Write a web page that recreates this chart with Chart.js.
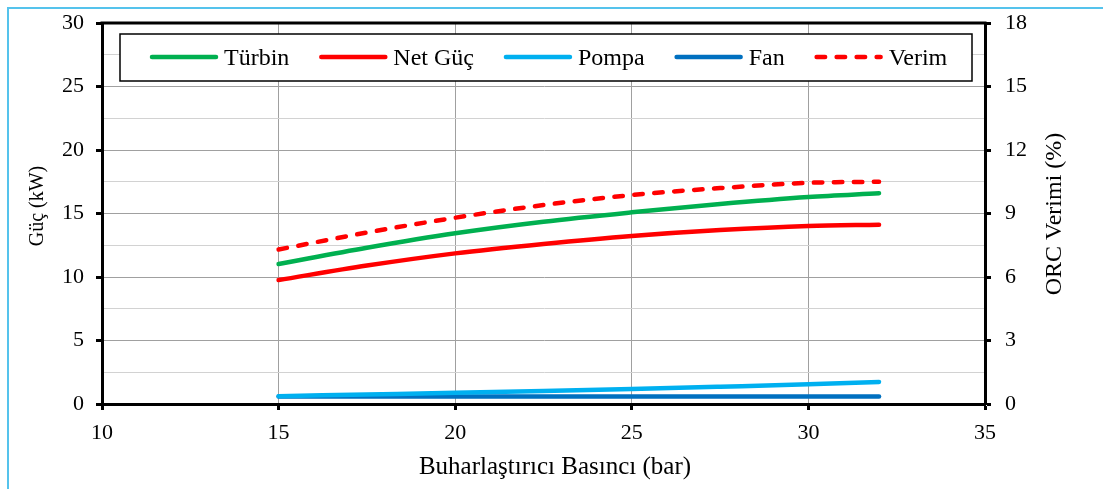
<!DOCTYPE html>
<html>
<head>
<meta charset="utf-8">
<style>
  html, body { margin: 0; padding: 0; background: #fff; }
  #wrap { width: 1103px; height: 489px; }
</style>
<script src="https://cdn.jsdelivr.net/npm/chart.js@4/dist/chart.umd.min.js"></script>
</head>
<body>
<div id="wrap"><canvas id="chart" width="1103" height="489"></canvas></div>
<script>
// pressure (bar) and the computed outputs
const basinc = [15, 17.5, 20, 22.5, 25, 27.5, 30, 32];
const turbin = [11.02, 12.3, 13.44, 14.35, 15.09, 15.75, 16.3, 16.6];
const netGuc = [9.76, 10.9, 11.86, 12.6, 13.23, 13.7, 14.02, 14.12];
const pompa = [0.62, 0.75, 0.88, 1.02, 1.18, 1.36, 1.55, 1.74];
const fan = [0.6, 0.6, 0.6, 0.6, 0.6, 0.6, 0.6, 0.6];
const verim = [7.3, 8.1, 8.8, 9.4, 9.87, 10.2, 10.45, 10.5];

const seriesNames = ['Türbin', 'Net Güç', 'Pompa', 'Fan', 'Verim'];
const seriesColors = ['#00b050', '#ff0000', '#00b0f0', '#0070c0', '#ff0000'];

const SERIF = '"Liberation Serif", "Times New Roman", serif';
const DASH = [8.5, 11.5];

function toPoints(values) {
  return basinc.map((x, i) => ({ x: x, y: values[i] }));
}

function lineSet(idx, values, axis, dash) {
  return {
    label: seriesNames[idx],
    data: toPoints(values),
    yAxisID: axis,
    borderColor: seriesColors[idx],
    backgroundColor: seriesColors[idx],
    borderWidth: 4.5,
    borderCapStyle: 'round',
    borderDash: dash || [],
    pointRadius: 0,
    cubicInterpolationMode: 'monotone',
    fill: false,
  };
}

function rotatedText(ctx, text, x, y) {
  ctx.save();
  ctx.translate(x, y);
  ctx.rotate(-Math.PI / 2);
  ctx.fillText(text, 0, 0);
  ctx.restore();
}

// fixed axis sizes so the plot area lands at 102..985 x 23..404
function fixWidth(w) {
  return (s) => { s.width = w; s.paddingTop = 0; s.paddingBottom = 0; };
}

// blue page frame, top chart border, axis titles and the boxed legend
const decorations = {
  id: 'decorations',
  beforeDraw(chart) {
    const ctx = chart.ctx;
    ctx.save();
    ctx.strokeStyle = '#55c3ec';
    ctx.lineWidth = 2;
    ctx.beginPath();
    ctx.moveTo(8, chart.height);
    ctx.lineTo(8, 8);
    ctx.lineTo(chart.width, 8);
    ctx.stroke();
    ctx.restore();
  },
  afterDraw(chart) {
    const ctx = chart.ctx;
    const area = chart.chartArea;
    ctx.save();

    ctx.strokeStyle = '#000';
    ctx.lineWidth = 3;
    ctx.beginPath();
    ctx.moveTo(area.left - 1.5, area.top);
    ctx.lineTo(area.right + 1.5, area.top);
    ctx.stroke();

    ctx.fillStyle = '#000';
    ctx.textAlign = 'center';
    ctx.textBaseline = 'middle';
    ctx.font = '25px ' + SERIF;
    ctx.fillText('Buharlaştırıcı Basıncı (bar)', 555, 467);
    ctx.font = '20px ' + SERIF;
    rotatedText(ctx, 'Güç (kW)', 38, 206);
    ctx.font = '24px ' + SERIF;
    rotatedText(ctx, 'ORC Verimi (%)', 1055, 214);

    // legend box
    const box = { x: 120, y: 34, w: 852, h: 47 };
    ctx.fillStyle = '#fff';
    ctx.fillRect(box.x, box.y, box.w, box.h);
    ctx.strokeStyle = '#000';
    ctx.lineWidth = 1.5;
    ctx.strokeRect(box.x, box.y, box.w, box.h);

    ctx.font = '24px ' + SERIF;
    ctx.textAlign = 'left';
    ctx.textBaseline = 'alphabetic';
    const midY = box.y + 23;
    let x = 150;
    chart.data.datasets.forEach((ds) => {
      ctx.strokeStyle = ds.borderColor;
      ctx.lineWidth = ds.borderWidth;
      ctx.lineCap = 'round';
      ctx.setLineDash(ds.borderDash);
      ctx.beginPath();
      ctx.moveTo(x + 2, midY);
      ctx.lineTo(x + 66, midY);
      ctx.stroke();
      ctx.setLineDash([]);
      ctx.fillStyle = '#000';
      ctx.fillText(ds.label, x + 74, midY + 8);
      x += 74 + ctx.measureText(ds.label).width + 30;
    });

    ctx.restore();
  },
};

const isMajor = (v) => Math.abs(v % 5) < 1e-6;
const tickFont = { family: SERIF, size: 22 };

new Chart(document.getElementById('chart'), {
  type: 'line',
  data: {
    datasets: [
      lineSet(0, turbin, 'y'),
      lineSet(1, netGuc, 'y'),
      lineSet(2, pompa, 'y'),
      lineSet(3, fan, 'y'),
      lineSet(4, verim, 'y1', DASH),
    ],
  },
  options: {
    responsive: false,
    animation: false,
    layout: { padding: { top: 23, left: 0, right: 0, bottom: 0 } },
    plugins: {
      legend: { display: false },
      tooltip: { enabled: false },
    },
    scales: {
      x: {
        type: 'linear',
        min: 10,
        max: 35,
        ticks: { stepSize: 5, padding: 10, color: '#000', font: tickFont },
        grid: { color: '#a0a0a0', lineWidth: 1, tickColor: '#000', tickWidth: 3, tickLength: 6 },
        border: { color: '#000', width: 3 },
        afterFit: (s) => { s.height = 85; s.paddingLeft = 0; s.paddingRight = 0; },
      },
      y: {
        position: 'left',
        min: 0,
        max: 30,
        ticks: {
          stepSize: 2.5,
          padding: 12,
          color: '#000',
          font: tickFont,
          callback: (v) => (isMajor(v) ? v : ''),
        },
        grid: {
          color: (c) => (isMajor(c.tick.value) ? '#a0a0a0' : '#d2d2d2'),
          lineWidth: 1,
          tickColor: (c) => (isMajor(c.tick.value) ? '#000' : 'rgba(0,0,0,0)'),
          tickWidth: 3,
          tickLength: 6,
        },
        border: { color: '#000', width: 3 },
        afterFit: fixWidth(102),
      },
      y1: {
        position: 'right',
        min: 0,
        max: 18,
        ticks: { stepSize: 3, padding: 14, color: '#000', font: tickFont },
        grid: { drawOnChartArea: false, tickColor: '#000', tickWidth: 3, tickLength: 6 },
        border: { color: '#000', width: 3 },
        afterFit: fixWidth(118),
      },
    },
  },
  plugins: [decorations],
});
</script>
</body>
</html>
